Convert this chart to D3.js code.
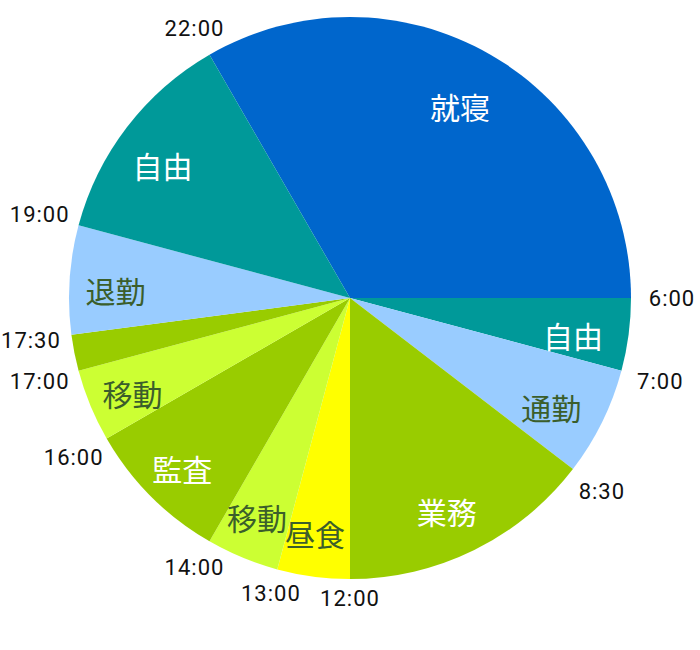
<!DOCTYPE html>
<html lang="ja">
<head>
    <meta charset="UTF-8">
    <title>一日のスケジュール</title>
    <script src="https://d3js.org/d3.v7.min.js"></script>
    <style>
        body { margin: 0; background: #fff; }
        .seg-label { font-family: "Noto Sans CJK JP", sans-serif; font-size: 30px; font-weight: 400; }
        .time-label { font-family: Roboto, sans-serif; font-size: 22px; letter-spacing: 1px; fill: #111; }
    </style>
</head>
<body>
</body>
<script>
    const width = 700;
    const height = 650;
    const cx = 350, cy = 298;
    const radius = 281;

    // 22:00 から始まる区間 (時間数)
    const activities = ["就寝", "自由", "通勤", "業務", "昼食", "移動", "監査", "移動", "", "退勤", "自由"];
    const durations = [8, 1, 1.5, 3.5, 1, 1, 2, 1, 0.5, 1.5, 3];
    const startTimes = ["22:00", "6:00", "7:00", "8:30", "12:00", "13:00", "14:00", "16:00", "17:00", "17:30", "19:00"];
    const fills = ["#0066cc", "#009999", "#99ccff", "#99cc00", "#ffff00", "#ccff33", "#99cc00", "#ccff33", "#99cc00", "#99ccff", "#009999"];
    const textColors = ["#fff", "#fff", "#3b5e2b", "#fff", "#3b5e2b", "#3b5e2b", "#fff", "#3b5e2b", "#fff", "#3b5e2b", "#fff"];

    const data = activities.map((a, i) => ({
        name: a, hours: durations[i], start: startTimes[i], fill: fills[i], color: textColors[i]
    }));

    // 時刻 → 角度 (0:00 が真上、時計回り)
    const angle = d3.scaleLinear().domain([0, 24]).range([0, 2 * Math.PI]);

    const pie = d3.pie()
        .sort(null)
        .value(d => d.hours)
        .startAngle(angle(22))
        .endAngle(angle(22) + 2 * Math.PI);

    const arc = d3.arc().innerRadius(0).outerRadius(radius);
    const labelArc = d3.arc().innerRadius(230).outerRadius(230);

    const svg = d3.select("body").append("svg")
        .attr("width", width)
        .attr("height", height);

    const g = svg.append("g").attr("transform", `translate(${cx},${cy})`);
    const arcs = pie(data);

    g.selectAll("path")
        .data(arcs)
        .enter().append("path")
        .attr("d", arc)
        .attr("fill", d => d.data.fill);

    g.selectAll(".seg-label")
        .data(arcs.filter(d => d.data.name))
        .enter().append("text")
        .attr("class", "seg-label")
        .attr("transform", d => `translate(${labelArc.centroid(d)})`)
        .attr("dx", -5)
        .attr("dy", 7)
        .attr("text-anchor", "middle")
        .attr("dominant-baseline", "central")
        .attr("fill", d => d.data.color)
        .text(d => d.data.name);

    // 区間の開始時刻を外周に
    g.selectAll(".time-label")
        .data(arcs)
        .enter().append("text")
        .attr("class", "time-label")
        .attr("transform", d => {
            const a = d.startAngle;
            const r = 300 + 22 * Math.abs(Math.sin(a));
            return `translate(${r * Math.sin(a)},${-r * Math.cos(a)})`;
        })
        .attr("text-anchor", "middle")
        .attr("dominant-baseline", "central")
        .text(d => d.data.start);
</script>
</html>
